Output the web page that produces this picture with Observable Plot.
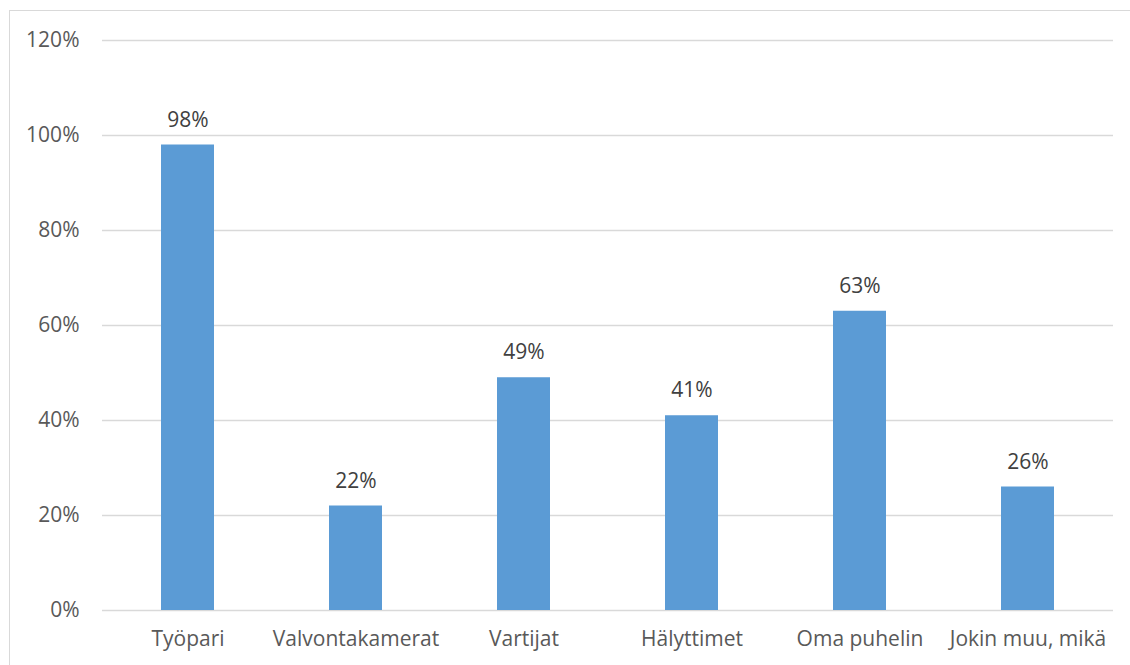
<!DOCTYPE html>
<html>
<head>
<meta charset="utf-8">
<script src="https://cdn.jsdelivr.net/npm/d3@7"></script>
<script src="https://cdn.jsdelivr.net/npm/@observablehq/plot@0.6"></script>
<style>
  html, body { margin: 0; padding: 0; background: #fff; overflow: hidden; }
  #wrap { position: relative; width: 1130px; height: 665px; }
  #border { position: absolute; left: 9px; top: 10px; width: 1140px; height: 700px; border: 1px solid #d9d9d9; box-sizing: border-box; }
  #chart { position: absolute; left: 0; top: 0; }
</style>
</head>
<body>
<div id="wrap"><div id="border"></div><div id="chart"></div></div>
<script>
const categories = ["Työpari", "Valvontakamerat", "Vartijat", "Hälyttimet", "Oma puhelin", "Jokin muu, mikä"];
const values = [0.98, 0.22, 0.49, 0.41, 0.63, 0.26];
const yTicks = [0, 0.2, 0.4, 0.6, 0.8, 1.0, 1.2];

const data = categories.map((c, i) => ({category: c, value: values[i]}));
const pct = d => Math.round(d * 100) + "%";

const chart = Plot.plot({
  width: 1130,
  height: 665,
  marginLeft: 102,
  marginRight: 17,
  marginTop: 40,
  marginBottom: 55,
  style: {fontFamily: "'Open Sans', 'Liberation Sans', Arial, sans-serif", fontSize: "21px", color: "#595959", background: "transparent"},
  x: {domain: categories, paddingInner: 0.685, paddingOuter: 0.3425, label: null},
  y: {domain: [0, 1.2], ticks: yTicks, label: null},
  marks: [
    Plot.ruleY(yTicks, {stroke: "#d9d9d9", strokeWidth: 1.3}),
    Plot.barY(data, {x: "category", y: "value", fill: "#5b9bd5"}),
    Plot.text(data, {x: "category", y: "value", text: d => pct(d.value), dy: -25, fill: "#404040", fontSize: 21}),
    Plot.axisY({ticks: yTicks, tickFormat: pct, tickSize: 0, tickPadding: 23, fontSize: 21, fill: "#595959"}),
    Plot.axisX({tickSize: 0, tickPadding: 21, fontSize: 21, fill: "#595959"})
  ]
});
document.getElementById("chart").appendChild(chart);
</script>
</body>
</html>
